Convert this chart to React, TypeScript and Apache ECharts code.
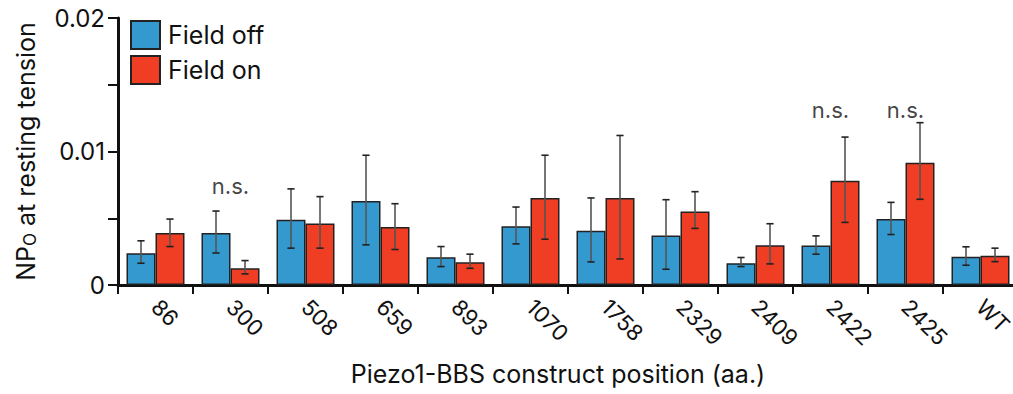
import React, { useEffect, useRef } from "react";
import * as echarts from "echarts";

const categories = ["86", "300", "508", "659", "893", "1070", "1758", "2329", "2409", "2422", "2425", "WT"];
const seriesNames = ["Field off", "Field on"];

const fieldOff = [0.00238, 0.00389, 0.00489, 0.00629, 0.00208, 0.00441, 0.00406, 0.00371, 0.00163, 0.00296, 0.00494, 0.00211];
const fieldOffLow = [0.00163, 0.0024, 0.00276, 0.00301, 0.00138, 0.00308, 0.00173, 0.00118, 0.00138, 0.00231, 0.00378, 0.00148];
const fieldOffHigh = [0.00331, 0.00554, 0.0072, 0.00972, 0.00288, 0.00584, 0.00652, 0.00639, 0.00206, 0.00368, 0.00619, 0.00286];

const fieldOn = [0.00389, 0.00125, 0.00461, 0.00434, 0.0017, 0.00652, 0.00652, 0.00551, 0.00298, 0.0078, 0.00915, 0.0022];
const fieldOnLow = [0.00288, 0.00083, 0.00276, 0.00266, 0.00125, 0.00343, 0.00195, 0.00424, 0.00158, 0.00469, 0.00642, 0.00175];
const fieldOnHigh = [0.00494, 0.00183, 0.00662, 0.00609, 0.00231, 0.00972, 0.0112, 0.00699, 0.00459, 0.01108, 0.01216, 0.00276];

const nsCategories = ["300", "2422", "2425"];
const nsLevels = [0.0074, 0.0131, 0.0131];
const nsText = "n.s.";

const yTickLabels = ["0", "0.01", "0.02"];
const xTitle = "Piezo1-BBS construct position (aa.)";

const FONT = "Inter, 'Liberation Sans', Arial, sans-serif";
const TEXT = "#111";
const BLUE = "#3399cf";
const RED = "#ef3e24";
const BAR_W = 29;

function errorSeries(low: number[], high: number[], offset: number) {
  return {
    type: "custom",
    z: 5,
    silent: true,
    encode: { x: 0, y: [1, 2] },
    data: low.map((l, i) => [i, l, high[i]]),
    renderItem: (_params: any, api: any) => {
      const idx = api.value(0);
      const x = api.coord([idx, 0])[0] + offset;
      const yl = api.coord([idx, api.value(1)])[1];
      const yh = api.coord([idx, api.value(2)])[1];
      const cap = 3.6;
      return {
        type: "group",
        children: [
          { type: "line", shape: { x1: x, y1: yh, x2: x, y2: yl }, style: { stroke: "#555", lineWidth: 1.6 } },
          { type: "line", shape: { x1: x - cap, y1: yh, x2: x + cap, y2: yh }, style: { stroke: "#222", lineWidth: 1.6 } },
          { type: "line", shape: { x1: x - cap, y1: yl, x2: x + cap, y2: yl }, style: { stroke: "#222", lineWidth: 1.6 } },
        ],
      };
    },
  };
}

export default function App() {
  const ref = useRef<HTMLDivElement>(null);
  useEffect(() => {
    if (!ref.current) return;
    const chart = echarts.init(ref.current, null, { renderer: "svg" });
    const option: any = {
      animation: false,
      textStyle: { fontFamily: FONT, color: TEXT },
      grid: { left: 118, right: -5, top: 18, bottom: 109, containLabel: false, outerBoundsMode: "none" },
      legend: {
        orient: "vertical",
        left: 130,
        top: 20,
        padding: 0,
        itemWidth: 29,
        itemHeight: 28,
        itemGap: 5,
        icon: "rect",
        data: seriesNames,
        textStyle: { fontSize: 25, color: TEXT, fontFamily: FONT, padding: [0, 0, 0, 3] },
      },
      xAxis: {
        type: "category",
        data: categories,
        axisLine: { lineStyle: { color: TEXT, width: 3 } },
        axisTick: { show: true, length: 9, lineStyle: { color: TEXT, width: 2 }, interval: 0 },
        axisLabel: { interval: 0, rotate: -45, margin: 18, fontSize: 22, color: TEXT, fontFamily: FONT },
      },
      yAxis: {
        type: "value",
        min: 0,
        max: 0.02,
        interval: 0.005,
        splitLine: { show: false },
        axisLine: { show: true, lineStyle: { color: TEXT, width: 3 } },
        axisTick: { show: true, length: 10, lineStyle: { color: TEXT, width: 2 } },
        axisLabel: {
          margin: 13,
          fontSize: 24,
          color: TEXT,
          fontFamily: FONT,
          formatter: (v: number) => {
            const k = Math.round(v / 0.005);
            return k % 2 === 0 ? yTickLabels[k / 2] : "";
          },
        },
        name: "{a|NP}{b|O}{a| at resting tension}",
        nameLocation: "middle",
        nameRotate: 90,
        nameGap: 80,
        nameTextStyle: {
          fontFamily: FONT,
          color: TEXT,
          fontSize: 25,
          rich: {
            a: { fontSize: 25, fontFamily: FONT, color: TEXT },
            b: { fontSize: 17, fontFamily: FONT, color: TEXT, verticalAlign: "bottom" },
          },
        },
      },
      graphic: [
        {
          type: "text",
          x: 558,
          y: 374,
          style: { text: xTitle, fontSize: 25, fontFamily: FONT, fill: TEXT, textAlign: "center", textVerticalAlign: "middle" },
        },
      ],
      series: [
        {
          name: seriesNames[0],
          type: "bar",
          data: fieldOff,
          barWidth: BAR_W,
          barGap: "0%",
          itemStyle: { color: BLUE, borderColor: "#222", borderWidth: 1.5 },
        },
        {
          name: seriesNames[1],
          type: "bar",
          data: fieldOn,
          barWidth: BAR_W,
          barGap: "0%",
          itemStyle: { color: RED, borderColor: "#222", borderWidth: 1.5 },
        },
        errorSeries(fieldOffLow, fieldOffHigh, -BAR_W / 2),
        errorSeries(fieldOnLow, fieldOnHigh, BAR_W / 2),
        {
          type: "scatter",
          z: 6,
          silent: true,
          symbolSize: 1,
          itemStyle: { color: "rgba(0,0,0,0)" },
          data: nsCategories.map((c, i) => [c, nsLevels[i]]),
          label: { show: true, position: "inside", formatter: nsText, fontSize: 22, color: TEXT, fontFamily: FONT },
        },
      ],
    };
    chart.setOption(option);
    return () => chart.dispose();
  }, []);
  return <div ref={ref} style={{ position: "absolute", left: 0, top: 0, width: 1013, height: 394 }} />;
}
